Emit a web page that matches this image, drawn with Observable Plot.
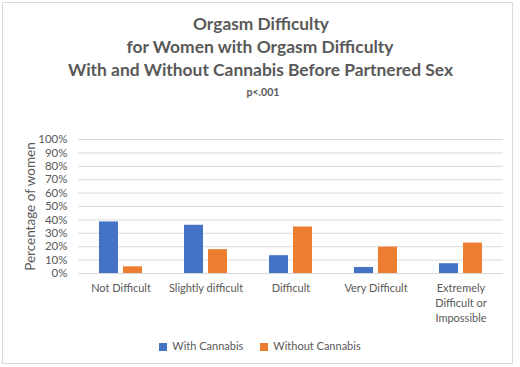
<!DOCTYPE html>
<html>
<head>
<meta charset="utf-8">
<script src="https://cdn.jsdelivr.net/npm/d3@7"></script>
<script src="https://cdn.jsdelivr.net/npm/@observablehq/plot@0.6"></script>
<style>
  body { margin: 0; background: #fff; font-family: Lato, "Open Sans", sans-serif; color: #595959; }
  #wrap { position: relative; width: 520px; height: 367px; overflow: hidden; }
  #frame { position: absolute; left: 2px; top: 2px; width: 509px; height: 360px; border: 1px solid #d9d9d9; }
  #titlesvg { position: absolute; left: 0; top: 0; }
  #chart { position: absolute; left: 0; top: 110px; }
  #legend { position: absolute; left: 0; top: 339px; width: 520px; display: flex; justify-content: center; gap: 17px; font-size: 11px; color: #595959; }
  .sw { display: inline-block; width: 8px; height: 8px; margin-right: 5px; vertical-align: -0.5px; }
</style>
</head>
<body>
<div id="wrap">
  <div id="frame"></div>
  <svg id="titlesvg" width="520" height="105" font-family="Lato, 'Open Sans', sans-serif" fill="#595959" font-weight="bold" text-anchor="middle">
    <text x="261" y="30" font-size="17.5" textLength="136" lengthAdjust="spacingAndGlyphs">Orgasm Difficulty</text>
    <text x="260" y="53" font-size="17.5" textLength="267" lengthAdjust="spacingAndGlyphs">for Women with Orgasm Difficulty</text>
    <text x="260.5" y="76" font-size="17.5" textLength="385" lengthAdjust="spacingAndGlyphs">With and Without Cannabis Before Partnered Sex</text>
    <text x="263" y="96" font-size="12" textLength="33" lengthAdjust="spacingAndGlyphs">p&lt;.001</text>
  </svg>
  <div id="chart"></div>
  <div id="legend"></div>
</div>
<script>
const categories = ["Not Difficult", "Slightly difficult", "Difficult", "Very Difficult", "Extremely Difficult or Impossible"];
const tickLabels = ["Not Difficult", "Slightly difficult", "Difficult", "Very Difficult", "Extremely\nDifficult or\nImpossible"];
const seriesNames = ["With Cannabis", "Without Cannabis"];
const seriesColors = ["#4472C4", "#ED7D31"];
const withCannabis = [38.5, 36, 13.3, 4.5, 7.3];
const withoutCannabis = [5, 17.8, 34.7, 19.7, 22.7];
const yTicks = [0, 10, 20, 30, 40, 50, 60, 70, 80, 90, 100];

const data = [];
categories.forEach((c, i) => {
  data.push({category: c, series: seriesNames[0], value: withCannabis[i]});
  data.push({category: c, series: seriesNames[1], value: withoutCannabis[i]});
});

const chart = Plot.plot({
  width: 520,
  height: 220,
  marginLeft: 78,
  marginRight: 17,
  marginTop: 29,
  marginBottom: 57,
  style: {fontFamily: "Lato, 'Open Sans', sans-serif", fontSize: "11px", color: "#595959", background: "transparent"},
  fx: {domain: categories, padding: 0, label: null},
  x: {domain: seriesNames, paddingInner: 0.21, paddingOuter: 0.875, axis: null},
  y: {domain: [0, 100], label: null},
  color: {domain: seriesNames, range: seriesColors},
  marks: [
    Plot.ruleY(yTicks, {stroke: "#d9d9d9", strokeWidth: 1}),
    Plot.barY(data, {fx: "category", x: "series", y: "value", fill: "series"}),
    Plot.axisY(yTicks, {tickSize: 0, tickPadding: 11, tickFormat: d => d + "%", label: "Percentage of women", labelAnchor: "center", labelArrow: "none", labelOffset: 53, fontSize: 11.5}),
    Plot.axisFx({anchor: "bottom", tickSize: 0, tickPadding: 8, label: null, tickFormat: d => tickLabels[categories.indexOf(d)], lineHeight: 1.35, fontSize: 11})
  ]
});
chart.querySelectorAll("text").forEach(t => {
  if (t.textContent.trim() === "Percentage of women") t.setAttribute("font-size", "13.5");
});
document.getElementById("chart").appendChild(chart);

const legend = document.getElementById("legend");
seriesNames.forEach((s, i) => {
  const item = document.createElement("span");
  item.innerHTML = `<span class="sw" style="background:${seriesColors[i]}"></span>${s}`;
  legend.appendChild(item);
});
</script>
</body>
</html>
